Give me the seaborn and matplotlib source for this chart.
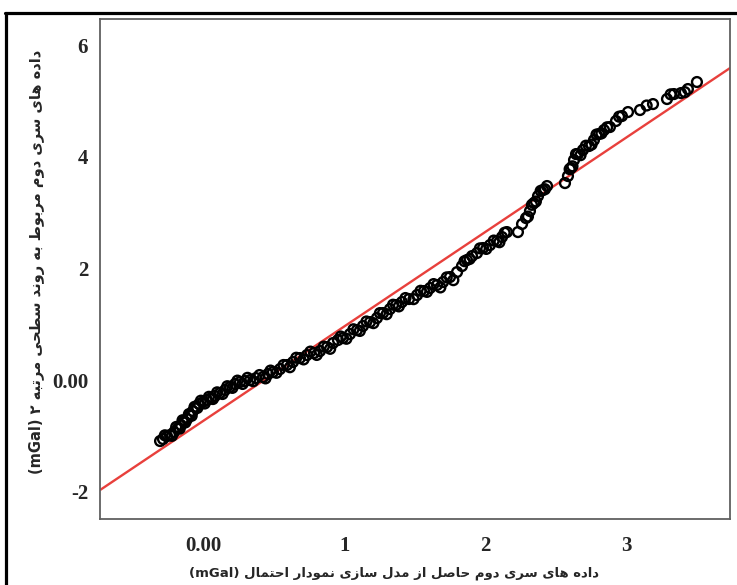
import matplotlib
matplotlib.use("Agg")
import matplotlib.pyplot as plt
from matplotlib.lines import Line2D
import pandas as pd
import seaborn as sns

# sample points (mGal)
model_x = [-0.304, -0.283, -0.255, -0.234, -0.205, -0.177, -0.156, -0.134, -0.113, -0.092,
           -0.071, -0.050, -0.028, 0.000, 0.028, 0.057, 0.085, 0.120, 0.156, 0.191,
           0.226, 0.262, 0.297, 0.333, 0.375, 0.425, 0.460, 0.495, 0.545, 0.594,
           0.637, 0.686, 0.736, 0.786, 0.828, 0.878, 0.920, 0.955, 0.991, 1.040,
           1.090, 1.132, 1.182, 1.231, 1.274, 1.323, 1.366, 1.408, 1.458, 1.515,
           1.564, 1.607, 1.656, 1.699, 1.748, 1.798, 1.833, 1.868, 1.904, 1.939,
           1.982, 2.031, 2.081, 2.116, 2.151, 2.229, 2.258, 2.286, 2.314, 2.342,
           2.371, 2.406, 2.435, 2.562, 2.583, 2.604, 2.626, 2.654, 2.689, 2.732,
           2.767, 2.803, 2.838, 2.880, 2.923, 2.965, 3.008, 3.093, 3.185, 3.284,
           3.333, 3.383, 3.432, 3.496,
           -0.270, -0.220, -0.190, -0.165, -0.145, -0.125, -0.100, -0.080, -0.060, -0.040,
           -0.015, 0.012, 0.042, 0.070, 0.100, 0.138, 0.172, 0.208, 0.244, 0.280,
           0.315, 0.355, 0.400, 0.442, 0.478, 0.520, 0.570, 0.615, 0.660, 0.712,
           0.760, 0.805, 0.855, 0.900, 0.975, 1.015, 1.065, 1.110, 1.157, 1.206,
           1.252, 1.300, 1.345, 1.386, 1.433, 1.490, 1.540, 1.585, 1.632, 1.680,
           1.725, 1.772, 1.851, 1.887, 1.960, 2.005, 2.058, 2.098, 2.135, 2.300,
           2.328, 2.356, 2.390, 2.420, 2.595, 2.615, 2.640, 2.672, 2.710, 2.750,
           2.785, 2.820, 2.860, 2.945, 3.140, 3.310, 3.410]
trend_y = [-1.093, -1.057, -1.004, -0.986, -0.932, -0.860, -0.806, -0.735, -0.699, -0.627,
           -0.556, -0.484, -0.430, -0.394, -0.358, -0.323, -0.287, -0.233, -0.179, -0.125,
           -0.072, -0.036, -0.018, 0.000, 0.036, 0.054, 0.108, 0.143, 0.197, 0.269,
           0.323, 0.394, 0.448, 0.484, 0.520, 0.591, 0.663, 0.717, 0.753, 0.824,
           0.896, 0.968, 1.039, 1.111, 1.201, 1.272, 1.344, 1.398, 1.452, 1.523,
           1.595, 1.649, 1.703, 1.756, 1.846, 1.935, 2.043, 2.151, 2.222, 2.276,
           2.366, 2.419, 2.491, 2.563, 2.652, 2.652, 2.796, 2.903, 3.029, 3.172,
           3.297, 3.405, 3.477, 3.530, 3.656, 3.799, 3.943, 4.050, 4.122, 4.194,
           4.301, 4.409, 4.480, 4.534, 4.642, 4.731, 4.803, 4.839, 4.946, 5.036,
           5.125, 5.143, 5.215, 5.341,
           -0.990, -1.000, -0.840, -0.870, -0.720, -0.760, -0.610, -0.640, -0.480, -0.500,
           -0.370, -0.420, -0.300, -0.340, -0.220, -0.250, -0.110, -0.140, -0.010, -0.070,
           0.040, -0.020, 0.090, 0.030, 0.170, 0.130, 0.270, 0.230, 0.400, 0.370,
           0.510, 0.450, 0.600, 0.560, 0.780, 0.740, 0.910, 0.880, 1.050, 1.020,
           1.200, 1.180, 1.350, 1.320, 1.470, 1.450, 1.600, 1.580, 1.720, 1.660,
           1.840, 1.790, 2.130, 2.170, 2.360, 2.350, 2.500, 2.470, 2.640, 2.930,
           3.140, 3.200, 3.390, 3.420, 3.780, 3.830, 4.050, 4.030, 4.200, 4.220,
           4.400, 4.420, 4.530, 4.720, 4.920, 5.120, 5.160]

# reference line end points
fit_x = [-0.729, 3.730]
fit_y = [-1.971, 5.591]

x_ticks = [0, 1, 2, 3]
x_tick_labels = ["0.00", "1", "2", "3"]
y_ticks = [-2, 0, 2, 4, 6]
y_tick_labels = ["-2", "0.00", "2", "4", "6"]

x_label = "داده های سری دوم حاصل از مدل سازی نمودار احتمال"
y_label = "داده های سری دوم مربوط به روند سطحی مرتبه"

# minimal Persian shaping: isolated, final, initial, medial
FORMS = {
    "ا": ("\uFE8D", "\uFE8E", None, None),
    "ب": ("\uFE8F", "\uFE90", "\uFE91", "\uFE92"),
    "ت": ("\uFE95", "\uFE96", "\uFE97", "\uFE98"),
    "ح": ("\uFEA1", "\uFEA2", "\uFEA3", "\uFEA4"),
    "د": ("\uFEA9", "\uFEAA", None, None),
    "ر": ("\uFEAD", "\uFEAE", None, None),
    "ز": ("\uFEAF", "\uFEB0", None, None),
    "س": ("\uFEB1", "\uFEB2", "\uFEB3", "\uFEB4"),
    "ص": ("\uFEB9", "\uFEBA", "\uFEBB", "\uFEBC"),
    "ط": ("\uFEC1", "\uFEC2", "\uFEC3", "\uFEC4"),
    "ل": ("\uFEDD", "\uFEDE", "\uFEDF", "\uFEE0"),
    "م": ("\uFEE1", "\uFEE2", "\uFEE3", "\uFEE4"),
    "ن": ("\uFEE5", "\uFEE6", "\uFEE7", "\uFEE8"),
    "ه": ("\uFEE9", "\uFEEA", "\uFEEB", "\uFEEC"),
    "و": ("\uFEED", "\uFEEE", None, None),
    "ی": ("\uFEEF", "\uFEF0", "\uFEF3", "\uFEF4"),
}


def shape(text):
    out = []
    for i, ch in enumerate(text):
        if ch not in FORMS:
            out.append(ch)
            continue
        prev = text[i - 1] if i > 0 else ""
        nxt = text[i + 1] if i + 1 < len(text) else ""
        join_prev = prev in FORMS and FORMS[prev][2] is not None
        join_next = nxt in FORMS and FORMS[ch][2] is not None
        iso, fin, ini, med = FORMS[ch]
        if join_prev and join_next:
            out.append(med)
        elif join_prev:
            out.append(fin)
        elif join_next:
            out.append(ini)
        else:
            out.append(iso)
    return "".join(out)[::-1]


df = pd.DataFrame({"x": model_x, "y": trend_y})
fit = pd.DataFrame({"x": fit_x, "y": fit_y})

sns.set_style("white")
plt.rcParams["font.family"] = ["DejaVu Sans"]

fig = plt.figure(figsize=(7.37, 5.85), dpi=100)
ax = fig.add_axes([0.1357, 0.1128, 0.8548, 0.8547])

sns.lineplot(data=fit, x="x", y="y", color="#e8403c", linewidth=1.7, ax=ax)
sns.scatterplot(data=df, x="x", y="y", marker="o", s=50, facecolors="none",
                edgecolor="black", linewidth=1.7, ax=ax, zorder=3)

ax.set_xlim(-0.729, 3.730)
ax.set_ylim(-2.49, 6.47)
ax.set_xticks(x_ticks)
ax.set_xticklabels(x_tick_labels, family="Liberation Serif", fontweight="bold", fontsize=15)
ax.set_yticks(y_ticks)
ax.set_yticklabels(y_tick_labels, family="Liberation Serif", fontweight="bold", fontsize=15)
ax.tick_params(axis="x", direction="out", length=6.5, width=1.2, color="#606060", pad=6)
ax.tick_params(axis="y", direction="out", length=6.5, width=1.2, color="#606060", pad=2)

for sp in ax.spines.values():
    sp.set_color("#606060")
    sp.set_linewidth(1.3)

ax.set_xlabel("(mGal) " + shape(x_label), fontsize=9.5, fontweight="bold")
ax.xaxis.set_label_coords(0.467, -0.095)
ax.set_ylabel("(mGal) ۲ " + shape(y_label), fontsize=10.5, fontweight="bold")
ax.yaxis.set_label_coords(-0.088, 0.515)

# black frame on top and left like the source page
fig.add_artist(Line2D([0.007, 1.0], [0.977, 0.977], color="black", linewidth=2.3))
fig.add_artist(Line2D([0.0088, 0.0088], [0.0, 0.977], color="black", linewidth=2.3))

fig.savefig("out.png", dpi=100)
